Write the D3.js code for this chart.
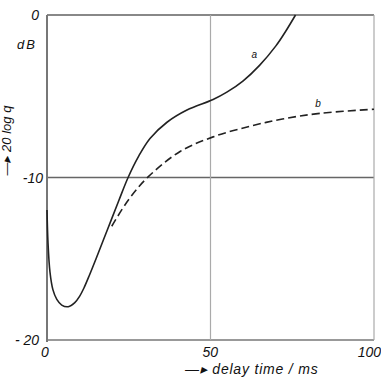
<!DOCTYPE html>
<html>
<head>
<meta charset="utf-8">
<script src="https://cdn.jsdelivr.net/npm/d3@7"></script>
<style>
  body { margin: 0; background: #fff; }
  text { font-family: "Liberation Sans", Arial, sans-serif; font-style: italic; fill: #111; }
</style>
</head>
<body>
<svg id="svg" width="381" height="380"></svg>
<script>
// curve a (solid) and curve b (dashed)
let timeA = [0, 0.3, 0.9, 1.8, 3, 4.5, 6.5, 8.5, 10, 11.3, 13, 15, 18.5, 22, 24.8, 28, 31.5, 36.7, 42.8, 50.8, 55, 60, 65, 70, 73, 76];
let dbA = [-12, -14, -15.8, -16.9, -17.5, -17.85, -17.95, -17.7, -17.3, -16.8, -16.0, -15.0, -13.2, -11.4, -10, -8.7, -7.6, -6.6, -5.85, -5.2, -4.75, -4.05, -3.1, -1.9, -1.0, 0];
let timeB = [19.8, 25, 31, 40.7, 50.8, 62, 72, 83.5, 100];
let dbB = [-13.0, -11.35, -9.95, -8.4, -7.5, -6.85, -6.4, -6.05, -5.8];
let xTicks = [0, 50, 100];
let yTicks = [0, -10, -20];
let yTickLabels = ["0", "-10", "- 20"];

const drawChart = function() {
  let svg = d3.select("#svg");
  let margin = { top: 15, left: 47 };
  let width = 327, height = 325;

  let g = svg.append("g")
    .attr("transform", "translate(" + margin.left + "," + margin.top + ")");

  let x = d3.scaleLinear().domain([0, 100]).range([0, width]);
  let y = d3.scaleLinear().domain([-20, 0]).range([height, 0]);

  // frame and grid
  g.append("line").attr("x1", 0).attr("x2", width).attr("y1", y(0)).attr("y2", y(0))
    .attr("stroke", "#888").attr("stroke-width", 2);
  g.append("line").attr("x1", 0).attr("x2", width).attr("y1", y(-10)).attr("y2", y(-10))
    .attr("stroke", "#666").attr("stroke-width", 1.5);
  g.append("line").attr("x1", 0).attr("x2", width).attr("y1", y(-20)).attr("y2", y(-20))
    .attr("stroke", "#999").attr("stroke-width", 2);
  g.append("line").attr("x1", x(50)).attr("x2", x(50)).attr("y1", 0).attr("y2", height)
    .attr("stroke", "#aaa").attr("stroke-width", 1.2);
  g.append("line").attr("x1", x(100)).attr("x2", x(100)).attr("y1", 0).attr("y2", height)
    .attr("stroke", "#aaa").attr("stroke-width", 1.2);
  g.append("line").attr("x1", 0).attr("x2", 0).attr("y1", 0).attr("y2", height + 2)
    .attr("stroke", "#777").attr("stroke-width", 2);

  let line = d3.line()
    .x(function(d) { return x(d[0]) })
    .y(function(d) { return y(d[1]) })
    .curve(d3.curveCatmullRom.alpha(0.5));

  g.append("path")
    .datum(d3.zip(timeA, dbA))
    .attr("fill", "none")
    .attr("stroke", "#222")
    .attr("stroke-width", 1.6)
    .attr("stroke-linejoin", "round")
    .attr("d", line);

  g.append("path")
    .datum(d3.zip(timeB, dbB))
    .attr("fill", "none")
    .attr("stroke", "#222")
    .attr("stroke-width", 1.6)
    .attr("stroke-dasharray", "8,4")
    .attr("d", line);

  // curve labels
  g.append("text").attr("x", x(62.5)).attr("y", y(-2.65)).attr("font-size", 10).text("a");
  g.append("text").attr("x", x(82)).attr("y", y(-5.65)).attr("font-size", 10).text("b");

  // tick labels
  g.selectAll(".xlab").data(xTicks).enter().append("text")
    .attr("x", function(d) { return x(d) })
    .attr("y", height + 17)
    .attr("text-anchor", function(d) { return d === 100 ? "end" : (d === 0 ? "middle" : "start") })
    .attr("dx", function(d) { return d === 100 ? 7 : (d === 50 ? -8 : -2) })
    .attr("font-size", 14)
    .text(function(d) { return d });

  g.selectAll(".ylab").data(yTicks).enter().append("text")
    .attr("x", function(d) { return d === -10 ? -4 : -8 })
    .attr("y", function(d) { return y(d) + 5 })
    .attr("text-anchor", "end")
    .attr("font-size", 14)
    .text(function(d, i) { return yTickLabels[i] });

  g.append("text").attr("x", -10).attr("y", 34).attr("text-anchor", "end")
    .attr("font-size", 13).attr("letter-spacing", 2).text("dB");

  // axis titles
  g.append("text").attr("x", 138).attr("y", height + 34).attr("font-size", 14)
    .attr("letter-spacing", 0.8)
    .text("\u2014\u25B8 delay  time / ms");
  g.append("text")
    .attr("transform", "translate(-36," + (y(-10) - 2) + ") rotate(-90)")
    .attr("font-size", 13)
    .text("\u2014\u25B8 20 log q");
}

drawChart();
</script>
</body>
</html>
